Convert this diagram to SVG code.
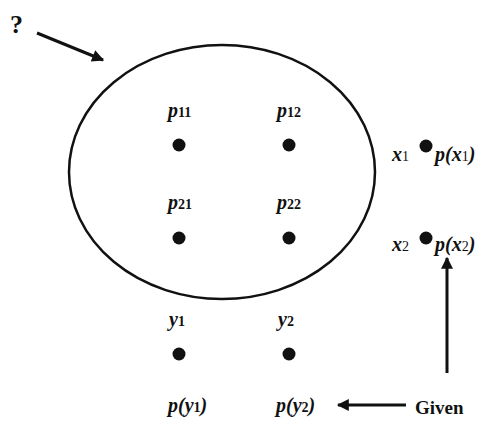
<svg xmlns="http://www.w3.org/2000/svg" width="480" height="425" viewBox="0 0 480 425">
<style>
.l{font-family:"Liberation Serif","DejaVu Serif",serif;font-size:20px;font-weight:bold;font-style:italic;fill:#111}
.s{font-size:14px;font-style:normal}
.n{font-weight:normal}
.g{font-family:"Liberation Serif","DejaVu Serif",serif;font-size:19px;font-weight:bold;fill:#111}
.d{fill:#111}
.c{stroke:#111;stroke-width:3;fill:none}
</style>
<defs>
<marker id="ah2" viewBox="0 0 10 10" refX="9" refY="5" markerWidth="4.5" markerHeight="4" orient="auto">
<path d="M0,0 L10,5 L0,10 z" fill="#111"/>
</marker>
</defs>
<g id="question"><text x="10" y="33" style="font-family:'Liberation Serif',serif;font-size:26px;font-weight:bold;fill:#111">?</text></g>
<g id="ellipse"><ellipse cx="222" cy="172" rx="153" ry="127" fill="none" stroke="#111" stroke-width="2.5"/></g>
<g id="p11"><circle class="d" cx="179" cy="145" r="6.5"/><text class="l" x="168" y="117">p<tspan class="s">11</tspan></text></g>
<g id="p12"><circle class="d" cx="289" cy="145" r="6.5"/><text class="l" x="277" y="117">p<tspan class="s">12</tspan></text></g>
<g id="p21"><circle class="d" cx="179" cy="238" r="6.5"/><text class="l" x="168" y="209">p<tspan class="s">21</tspan></text></g>
<g id="p22"><circle class="d" cx="289" cy="238" r="6.5"/><text class="l" x="277" y="209">p<tspan class="s">22</tspan></text></g>
<g id="y1"><circle class="d" cx="179" cy="354" r="6.5"/><text class="l" x="169" y="326">y<tspan class="s">1</tspan></text><text class="l" x="168" y="412">p(y<tspan class="s">1</tspan>)</text></g>
<g id="y2"><circle class="d" cx="289" cy="354" r="6.5"/><text class="l" x="278" y="326">y<tspan class="s">2</tspan></text><text class="l" x="276" y="412">p(y<tspan class="s">2</tspan>)</text></g>
<g id="x1"><circle class="d" cx="426" cy="146" r="6.5"/><text class="l" x="392" y="161">x<tspan class="s n">1</tspan></text><text class="l" x="435" y="161">p(x<tspan class="s n">1</tspan>)</text></g>
<g id="x2"><circle class="d" cx="426" cy="238" r="6.5"/><text class="l" x="392" y="251">x<tspan class="s n">2</tspan></text><text class="l" x="435" y="251">p(x<tspan class="s n">2</tspan>)</text></g>
<g id="given"><text class="g" x="415" y="414">Given</text></g>
<g id="connectors">
<line class="c" x1="37" y1="33" x2="103" y2="60" marker-end="url(#ah2)"/>
<line class="c" x1="406" y1="405" x2="338" y2="405" marker-end="url(#ah2)"/>
<line class="c" x1="447" y1="373" x2="447" y2="258" marker-end="url(#ah2)"/>
</g>
</svg>
